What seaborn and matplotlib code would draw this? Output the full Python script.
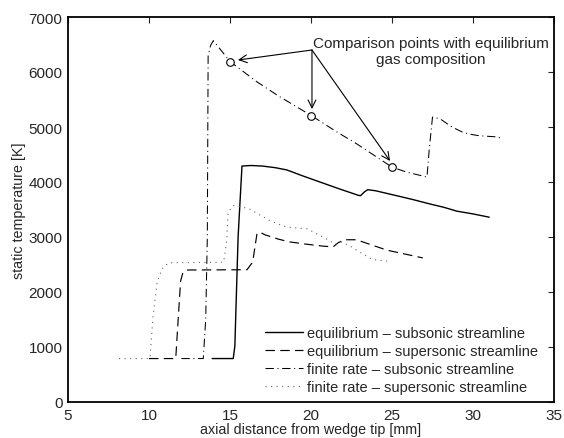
import matplotlib
matplotlib.use("Agg")
import matplotlib.pyplot as plt
import seaborn as sns
import pandas as pd

# ---- data ----
eq_sub_x = [13.9, 15.2, 15.3, 15.5, 15.74, 16.3, 17.0, 17.8, 18.5, 19.5, 20.55, 21.7, 22.9, 23.05, 23.3, 23.5, 24.0, 25.3, 26.3, 27.35, 28.2, 29.0, 30.0, 31.0]
eq_sub_T = [790, 790, 1020, 3000, 4290, 4300, 4290, 4260, 4220, 4110, 4000, 3880, 3760, 3750, 3820, 3860, 3840, 3750, 3680, 3600, 3540, 3470, 3420, 3360]

eq_sup_x = [10.0, 11.65, 11.8, 11.95, 12.1, 12.4, 16.05, 16.4, 16.67, 16.9, 17.16, 18.0, 18.7, 19.7, 20.7, 21.36, 21.7, 22.1, 22.8, 23.7, 24.7, 25.8, 26.9]
eq_sup_T = [790, 790, 1500, 2200, 2360, 2400, 2405, 2545, 3070, 3080, 3040, 2960, 2910, 2870, 2835, 2820, 2900, 2950, 2950, 2860, 2760, 2690, 2620]

fr_sub_x = [12.0, 13.35, 13.5, 13.6, 13.65, 13.8, 13.97, 14.38, 15.0, 16.67, 17.96, 20.06, 21.6, 22.84, 25.0, 25.9, 27.16, 27.3, 27.5, 27.96, 28.7, 29.4, 29.8, 30.4, 31.5, 31.67]
fr_sub_T = [790, 790, 1500, 3000, 6300, 6480, 6570, 6420, 6190, 5820, 5570, 5200, 4910, 4690, 4270, 4180, 4090, 4600, 5180, 5150, 5000, 4900, 4870, 4840, 4820, 4800]

fr_sup_x = [8.15, 10.06, 10.25, 10.5, 10.8, 11.2, 12.0, 14.6, 14.7, 14.8, 14.88, 15.2, 15.8, 16.2, 17.5, 18.5, 19.75, 20.74, 21.5, 21.9, 22.5, 23.2, 23.8, 24.7]
fr_sup_T = [790, 790, 1560, 2180, 2420, 2530, 2535, 2540, 2720, 2960, 3450, 3570, 3540, 3510, 3290, 3180, 3150, 3000, 2870, 2910, 2820, 2690, 2590, 2560]

cmp_x = [15, 20, 25]
cmp_T = [6190, 5200, 4270]

labels = ["equilibrium \u2013 subsonic streamline",
          "equilibrium \u2013 supersonic streamline",
          "finite rate \u2013 subsonic streamline",
          "finite rate \u2013 supersonic streamline"]

annot_text = "Comparison points with equilibrium\ngas composition"
annot_origin = (20.06, 6400)
annot_targets = [(15.49, 6218), (20.06, 5327), (24.88, 4382)]

# ---- style ----
sns.set_style("white")
plt.rcParams["font.family"] = ["Liberation Sans", "DejaVu Sans"]
plt.rcParams["font.size"] = 10

fig = plt.figure(figsize=(5.64, 4.39), dpi=100)
ax = fig.add_axes([68/564, 36/439, 486/564, 385/439])

series = [
    (eq_sub_x, eq_sub_T, "-", "black", 1.0),
    (eq_sup_x, eq_sup_T, (0, (8, 4.5)), "black", 0.85),
    (fr_sub_x, fr_sub_T, (0, (8, 3.5, 1, 3.5)), "black", 0.75),
    (fr_sup_x, fr_sup_T, (0, (1, 4)), "0.4", 0.8),
]
handles = []
for (xs, ts, ls, col, lw), lab in zip(series, labels):
    df = pd.DataFrame({"x": xs, "T": ts})
    n0 = len(ax.lines)
    sns.lineplot(data=df, x="x", y="T", ax=ax, sort=False, estimator=None,
                 color=col, linestyle=ls, linewidth=lw, label=lab, legend=False)
    handles.append(ax.lines[n0])

cdf = pd.DataFrame({"x": cmp_x, "T": cmp_T})
sns.scatterplot(data=cdf, x="x", y="T", ax=ax, marker="o", s=30,
                facecolor="white", edgecolor="black", linewidth=0.8, zorder=5, legend=False)

for tgt in annot_targets:
    ax.annotate("", xy=tgt, xytext=annot_origin,
                arrowprops=dict(arrowstyle="->", color="black", lw=0.8,
                                shrinkA=0, shrinkB=0, mutation_scale=14))
ax.text(27.4, 6380, annot_text, ha="center", va="center", multialignment="center",
        fontsize=11, linespacing=1.2)

ax.set_xlim(5, 35)
ax.set_ylim(0, 7000)
ax.set_xticks(range(5, 36, 5))
ax.set_yticks(range(0, 7001, 1000))
ax.tick_params(direction="in", top=True, right=True, length=4, width=0.8, labelsize=11, pad=4)
for sp in ax.spines.values():
    sp.set_linewidth(1.3)
    sp.set_color("black")
ax.set_xlabel("axial distance from wedge tip [mm]", fontsize=10.3, labelpad=0)
ax.set_ylabel("static temperature [K]", fontsize=10.3, labelpad=2)

leg = ax.legend(handles=handles, labels=labels, loc="upper left",
                bbox_to_anchor=((265-68)/486, (403-327)/385), frameon=False,
                borderpad=0, borderaxespad=0, handlelength=2.6, handletextpad=0.3,
                labelspacing=0.28, fontsize=10.5)

fig.savefig("out.png", dpi=100)
